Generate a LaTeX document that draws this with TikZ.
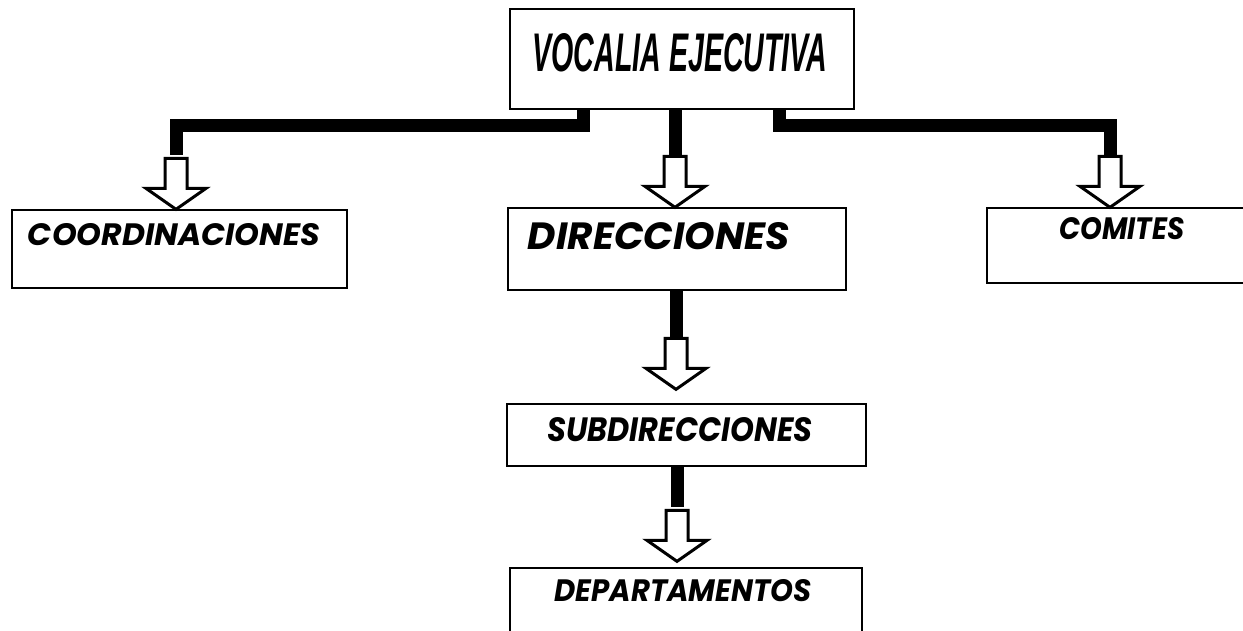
\documentclass[tikz,border=0pt]{standalone}
\usepackage{fontspec}
\newfontfamily\geo{Poppins}
\newfontfamily\cond{Liberation Sans}
\usetikzlibrary{calc}
\tikzset{
  box/.style={draw, line width=1.3pt, rectangle, inner sep=0pt},
  bar/.style={line width=13pt, line join=miter, line cap=butt},
  lbl/.style={inner sep=0pt, anchor=center},
  harrow/.pic={\draw[line width=3pt, line join=miter, fill=white]
     (0,0) -- (30,-21) -- (11,-21) -- (11,-51) -- (-11,-51) -- (-11,-21) -- (-30,-21) -- cycle;}
}
\newcommand{\gtxt}[3]{\resizebox{#1pt}{#2pt}{\geo\bfseries\itshape #3}}
\begin{document}
\begin{tikzpicture}[x=1pt,y=-1pt]
\useasboundingbox (0,0) rectangle (1243,630);
% boxes
\node[box, minimum width=344pt, minimum height=100pt] (vocalia) at (682,59) {};
\node[box, minimum width=335pt, minimum height=78pt] (coord) at (179.5,249) {};
\node[box, minimum width=338pt, minimum height=82pt] (dir) at (677,249) {};
\node[box, minimum width=283pt, minimum height=75pt] (comites) at (1128.5,245.5) {};
\node[box, minimum width=359pt, minimum height=62pt] (subdir) at (686.5,435) {};
\node[box, minimum width=352pt, minimum height=82pt] (depto) at (686,609) {};
% labels
\node[lbl] (tvoc) at (680,53) {\resizebox{295pt}{38pt}{\cond\bfseries\itshape VOCALIA EJECUTIVA}};
\node[lbl] (tcoord) at (174,235) {\gtxt{292}{22}{COORDINACIONES}};
\node[lbl] (tdir) at (659,236) {\gtxt{262}{27}{DIRECCIONES}};
\node[lbl] (tcom) at (1122,229) {\gtxt{125}{22}{COMITES}};
\node[lbl] (tsub) at (680,430) {\gtxt{265}{24}{SUBDIRECCIONES}};
\node[lbl] (tdep) at (683,591) {\gtxt{257}{22}{DEPARTAMENTOS}};
% connector coordinates
\coordinate (lcorner) at (176,125);
\coordinate (lend) at (176,155);
\coordinate (rcorner) at (1110,125);
\coordinate (rend) at (1110,155);
\coordinate (c1) at (675,155);
\coordinate (c2) at (676,337);
\coordinate (c3) at (677,507);
% thick bars
\draw[bar] ([xshift=74pt]vocalia.south west) |- (lcorner) -- (lend);
\draw[bar] ([xshift=-75pt]vocalia.south east) |- (rcorner) -- (rend);
\draw[bar] (vocalia.south -| c1) -- (c1);
\draw[bar] (dir.south -| c2) -- (c2);
\draw[bar] (subdir.south -| c3) -- (c3);
% hollow arrows
\pic at (coord.north -| lend) {harrow};
\pic at (comites.north -| rend) {harrow};
\pic at (dir.north -| c1) {harrow};
\pic at ($(subdir.north -| c2)+(0,-14)$) {harrow};
\pic at ($(depto.north -| c3)+(0,-6)$) {harrow};
\end{tikzpicture}
\end{document}
